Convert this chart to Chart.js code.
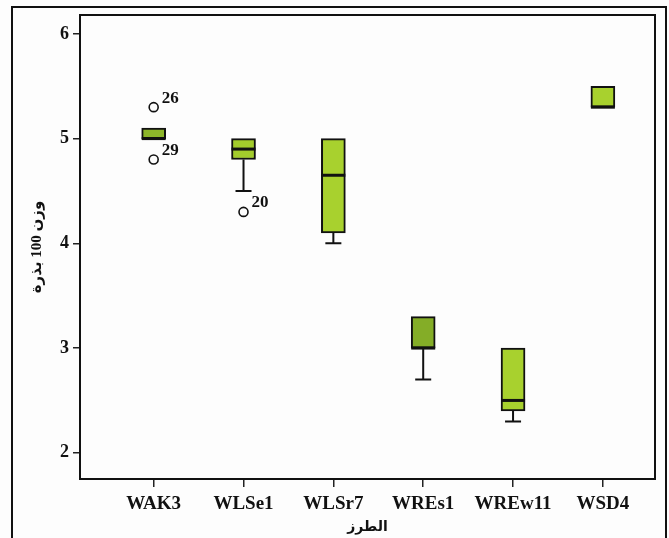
<!DOCTYPE html>
<html>
<head>
<meta charset="utf-8">
<script src="https://cdn.jsdelivr.net/npm/chart.js@4.4.0/dist/chart.umd.min.js"></script>
<style>
  body { margin: 0; background: #fff; }
</style>
</head>
<body>
<canvas id="boxChart" width="669" height="538"></canvas>
<script>
// Box plot data
const categories = ["WAK3", "WLSe1", "WLSr7", "WREs1", "WREw11", "WSD4"];
const q1 = [5.0, 4.8, 4.1, 3.0, 2.4, 5.3];
const q3 = [5.1, 5.0, 5.0, 3.3, 3.0, 5.5];
const medians = [5.0, 4.9, 4.65, 3.0, 2.5, 5.3];
const whiskerLow = [5.0, 4.5, 4.0, 2.7, 2.3, 5.3];
const whiskerHigh = [5.1, 5.0, 5.0, 3.3, 3.0, 5.5];
const outlierCat = [0, 0, 1];
const outlierValues = [5.3, 4.8, 4.3];
const outlierLabels = ["26", "29", "20"];
const yTicks = [2, 3, 4, 5, 6];

const serif = "'Liberation Serif', 'Times New Roman', 'DejaVu Sans', serif";
const boxColors = ["#8db62a", "#a3cc2c", "#a8d12e", "#84ad27", "#a8d12e", "#a8d12e"];

// draws medians, whiskers, outlier labels, frames
const boxExtras = {
  id: "boxExtras",
  beforeDraw(chart) {
    const ctx = chart.ctx;
    ctx.save();
    ctx.fillStyle = "#fdfdfd";
    ctx.fillRect(0, 0, chart.width, chart.height);
    ctx.strokeStyle = "#111";
    ctx.lineWidth = 2;
    ctx.strokeRect(12, 7, 654, 560);
    ctx.restore();
  },
  afterDatasetsDraw(chart) {
    const ctx = chart.ctx;
    const x = chart.scales.x;
    const y = chart.scales.y;
    const meta = chart.getDatasetMeta(0);
    ctx.save();
    ctx.strokeStyle = "#111";
    for (let i = 0; i < categories.length; i++) {
      const cx = x.getPixelForValue(i);
      const w = meta.data[i].width;
      // median
      ctx.lineWidth = 3;
      ctx.beginPath();
      ctx.moveTo(cx - w / 2, y.getPixelForValue(medians[i]));
      ctx.lineTo(cx + w / 2, y.getPixelForValue(medians[i]));
      ctx.stroke();
      // whiskers
      ctx.lineWidth = 2;
      const pairs = [[q1[i], whiskerLow[i]], [q3[i], whiskerHigh[i]]];
      pairs.forEach(([from, to]) => {
        if (from === to) return;
        const yTo = y.getPixelForValue(to);
        ctx.beginPath();
        ctx.moveTo(cx, y.getPixelForValue(from));
        ctx.lineTo(cx, yTo);
        ctx.moveTo(cx - 8, yTo);
        ctx.lineTo(cx + 8, yTo);
        ctx.stroke();
      });
    }
    // outlier labels
    ctx.fillStyle = "#111";
    ctx.font = "bold 17px " + serif;
    ctx.textAlign = "left";
    ctx.textBaseline = "middle";
    outlierValues.forEach((v, k) => {
      const px = x.getPixelForValue(outlierCat[k]);
      const py = y.getPixelForValue(v);
      ctx.fillText(outlierLabels[k], px + 8, py - 9);
    });
    // plot frame
    const a = chart.chartArea;
    ctx.lineWidth = 2;
    ctx.strokeRect(a.left, a.top, a.right - a.left, a.bottom - a.top);
    ctx.restore();
  }
};

const ctx = document.getElementById("boxChart").getContext("2d");

new Chart(ctx, {
  type: "bar",
  data: {
    datasets: [
      {
        type: "bar",
        data: categories.map((c, i) => ({ x: i, y: [q1[i], q3[i]] })),
        backgroundColor: boxColors,
        borderColor: "#111",
        borderWidth: 2,
        borderSkipped: false,
        barThickness: 24,
      },
      {
        type: "scatter",
        data: outlierValues.map((v, k) => ({ x: outlierCat[k], y: v })),
        pointStyle: "circle",
        pointRadius: 4.5,
        pointBorderWidth: 1.6,
        pointBorderColor: "#111",
        pointBackgroundColor: "#fdfdfd",
      },
    ],
  },
  options: {
    responsive: false,
    animation: false,
    layout: { padding: { left: 14, top: 15, right: 14, bottom: 0 } },
    plugins: {
      legend: { display: false },
      tooltip: { enabled: false },
    },
    scales: {
      x: {
        type: "linear",
        min: -0.82,
        max: 5.58,
        offset: false,
        afterBuildTicks: (s) => {
          s.ticks = categories.map((c, i) => ({ value: i }));
        },
        afterFit: (s) => {
          s.height = 59;
        },
        ticks: {
          autoSkip: false,
          maxRotation: 0,
          padding: 6,
          color: "#111",
          font: { family: serif, size: 19, weight: "bold" },
          callback: (v) => categories[v],
        },
        grid: {
          offset: false,
          drawOnChartArea: false,
          tickLength: 8,
          color: "#222",
          lineWidth: 1.5,
        },
        border: { display: true, color: "#111", width: 2 },
        title: {
          display: true,
          text: "الطرز",
          color: "#111",
          font: { family: serif, size: 14, weight: "bold" },
          padding: { top: 0, bottom: 2 },
        },
      },
      y: {
        min: 1.75,
        max: 6.18,
        afterBuildTicks: (s) => {
          s.ticks = yTicks.map((v) => ({ value: v }));
        },
        afterFit: (s) => {
          s.width = 66;
        },
        ticks: {
          padding: 4,
          color: "#111",
          font: { family: serif, size: 18, weight: "bold" },
        },
        grid: {
          drawOnChartArea: false,
          tickLength: 7,
          color: "#222",
          lineWidth: 1.5,
        },
        border: { display: true, color: "#111", width: 2 },
        title: {
          display: true,
          text: "وزن 100 بذرة",
          color: "#111",
          font: { family: serif, size: 15, weight: "bold" },
          padding: { top: 14, bottom: 0 },
        },
      },
    },
  },
  plugins: [boxExtras],
});
</script>
</body>
</html>
